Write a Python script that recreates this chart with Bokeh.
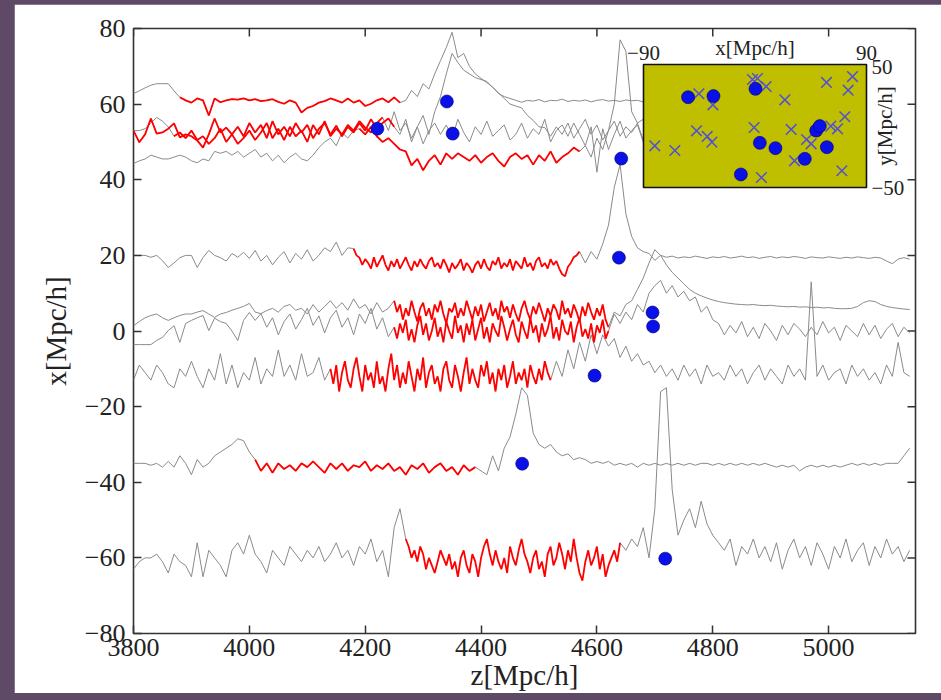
import numpy as np
from bokeh.plotting import figure
from bokeh.models import Range1d, FixedTicker
from bokeh.layouts import column
from bokeh.embed import file_html
from bokeh.resources import INLINE
from bokeh.core.properties import value

# ---------------- data ----------------
Z_STEP = 10    # gray spectra sampled every 10 Mpc/h along z
RED_STEP = 5   # finely sampled forest segments

# spectrum 1 (x = -60)
s1_z0 = 3800
s1_red = (4270, 4640)
s1_vals = [
    -63, -61, -60, -60, -59, -61, -64, -59, -61, -62,
    -65, -56, -65, -58, -60, -62, -65, -58, -56, -59,
    -54, -59, -61, -64, -58, -60, -62, -57, -59, -61,
    -58, -60, -57, -61, -59, -56, -60, -58, -62, -57,
    -59, -55, -61, -58, -65, -52, -47,
    -55, -59, -61, -57, -63, -64, -60, -58, -62, -65,
    -61, -57, -59, -63, -55, -58, -62, -64, -60, -56,
    -59, -63, -65, -61, -57, -55, -60, -64, -62, -58,
    -66, -61, -57, -59, -63, -65, -60, -56,
    -58, -55, -57, -52, -60, -47, -16, -15, -42, -54,
    -50, -47, -52, -45, -51, -54, -56, -58, -55, -62,
    -57, -59, -55, -60, -57, -61, -56, -63, -58, -55,
    -60, -57, -62, -56, -59, -63, -57, -60, -55, -61,
    -58, -56, -62, -57, -60, -55, -59, -57, -61, -58]
s1_red_vals = [
    -55, -57, -60, -58, -61, -57, -59, -63, -60, -62,
    -64, -61, -58, -60, -62, -59, -63, -61, -65, -60,
    -58, -62, -64, -59, -61, -65, -60, -57, -55, -59,
    -62, -58, -61, -63, -60, -64, -57, -60, -62, -58,
    -55, -59, -61, -64, -60, -58, -63, -61, -65, -59,
    -57, -62, -60, -56, -59, -63, -58, -61, -55, -60,
    -64, -66, -61, -58, -62, -60, -57, -63, -59, -65,
    -62, -60, -58, -61, -56]

# spectrum 2 (x = -35)
s2_z0 = 3800
s2_red = (4010, 4390)
s2_vals = [
    -35, -35, -35, -35.5, -35, -36, -34.5, -36, -33, -35,
    -38, -34, -36, -35, -33, -32, -31, -30, -28.5, -29,
    -32,
    -34, -37, -35, -37.5, -35, -36.5, -35.5, -37, -35, -36,
    -34.5, -36, -37.5, -35, -36.5, -35, -37, -35.5, -36, -34.5,
    -37, -35.5, -36.5, -35, -37, -36, -38, -35.5, -36.5, -35,
    -37.5, -36, -35, -37, -36, -38, -35.5, -37, -36,
    -37, -38, -33, -37, -31, -28, -22, -15, -17, -27,
    -30, -31, -30, -32, -33, -32.5, -34, -33.5, -34, -35,
    -34.5, -35, -34.5, -35.5, -35, -35.5, -35, -36, -35, -35.5,
    -35, -35.5, -35, -35.5, -35, -35.5, -35, -35.5, -35, -35,
    -35.5, -35, -35.5, -35, -35.5, -35, -35.5, -35, -35.5, -35,
    -35.5, -36, -35.5, -36, -35.5, -37, -36, -35.5, -36, -35.5,
    -36, -35.5, -36, -35.5, -35, -35.5, -35, -35.5, -35, -35.5,
    -35, -35, -35, -33, -31]
s2_red_vals = None

# spectrum 3 (x = -12)
s3_z0 = 3800
s3_red = (4140, 4520)
s3_vals = [
    -13, -9, -11, -13, -9, -11, -14, -15, -10, -12,
    -8, -12, -15, -10, -13, -6, -14, -9, -15, -11,
    -13, -7, -14, -10, -12, -5, -12, -9, -13, -6,
    -12, -11, -7, -13,
    -10, -15, -12, -8, -14, -16, -11, -7, -13, -9,
    -15, -12, -16, -10, -6, -13, -11, -15, -8, -12,
    -14, -9, -16, -13, -10, -7, -12, -15, -11, -14,
    -8, -13, -10, -16, -12, -9, -14, -11, -13,
    -8, -12, -5, -10, -3, -8, -1, -6, -1, -4,
    -2, -7, -4, -8, -6, -9, -8, -11, -9, -12,
    -10, -13, -9, -12, -10, -14, -9, -12, -11, -13,
    -9, -12, -10, -14, -11, -9, -13, -10, -12, -14,
    -9, -12, -10, -13, 13, -12, -9, -13, -11, -10,
    -14, -9, -12, -10, -13, -11, -14, -9, -12, -3, -11, -12]
s3_red_vals = [
    -10, -14, -9, -16, -11, -8, -13, -15, -10, -7,
    -12, -16, -9, -13, -11, -15, -8, -14, -12, -16,
    -10, -6, -13, -9, -15, -11, -14, -8, -12, -16,
    -10, -13, -7, -15, -11, -9, -14, -12, -16, -10,
    -8, -13, -15, -9, -12, -16, -11, -7, -14, -10,
    -13, -15, -9, -12, -8, -14, -11, -16, -10, -13,
    -9, -15, -12, -8, -14, -11, -13, -10, -15, -9,
    -12, -14, -10, -13, -8, -11, -13]

# spectrum 4a (x = 5, smooth)
s4a_z0 = 3800
s4a_red = (4250, 4620)
s4a_vals = [
    1.4, 2.5, 3.5, 4.1, 4.5, 3.5, 2.8, 3.5, 4.1, 4.5,
    4.5, 5, 5.4, 4.5, 3.6, 4.5, 4.9, 5.5, 6, 6.5,
    7.3, 5, 4.6, 5.4, 6, 5, 6.5, 7, 5.5, 6,
    4.5, 7, 5, 6.5, 8, 6, 7.5, 5.5, 8.5, 6,
    7, 4.5, 7.5, 5, 6,
    8, 5, 3, 7, 6, 2.5, 5, 8, 4, 3,
    6.5, 7.5, 4, 2, 5.5, 7, 6, 3, 4.5, 8,
    5, 2.5, 6, 7, 3.5, 5, 7.5, 4, 3, 6,
    8, 5.5, 2.5, 4, 7, 6, 3, 1,
    5, 4, 7, 8, 11, 14, 18, 21.5, 20, 17.5,
    15.5, 14, 12.5, 11, 10, 9.3, 8.7, 8.2, 7.8, 7.5,
    7.3, 7.1, 7, 6.9, 7, 6.8, 6.7, 6.8, 6.6, 6.5,
    6.4, 6.5, 6.3, 6.4, 6.2, 6.3, 6.1, 6.2, 6, 5.9,
    5.9, 6, 6.5, 7.5, 8, 7.8, 7, 6.5, 6.2, 6, 5.8, 5.7]
s4a_red_vals = [
    8, 5, 7, 3, 6, 4, 8, 5, 2.5, 6,
    7.5, 4, 6, 3, 7, 5, 8, 4.5, 2, 6,
    5, 7.5, 3.5, 6, 4, 8, 5.5, 3, 6.5, 4,
    7, 2.5, 5, 7.5, 4, 6, 3, 8, 5, 6.5,
    3.5, 7, 4.5, 2.5, 6, 8, 5, 3, 6.5, 4.5,
    7.5, 5, 2.5, 6, 4, 7, 5.5, 3, 8, 4.5,
    6, 3.5, 7, 5, 2.5, 6.5, 4, 7.5, 5, 3,
    6, 4, 7, 3, 1]

# spectrum 4b (x = 1.5, noisy)
s4b_z0 = 3800
s4b_red = (4250, 4620)
s4b_vals = [
    -3.6, -3.6, -3.6, -3.6, -2.5, -1.7, 0.1, 1.4, -3, 2,
    2.8, 3.5, 4.1, 0.1, 3.4, 2.5, 2, 0, -2.5, 2.8,
    4.9, 2.8, 4.6, 1, 3.5, -1, 2.5, 4.5, 0.5, 3,
    6, 1.5, 4, -0.5, 3.5, 5.5, 1, 3.5, -1, 4.5,
    2, 6, 0.5, 3.5, -1.5,
    1, -1.5, 3, 0.5, -2.5, -3, 1.5, 4, 2, -1,
    -2.5, 0, 3.5, 1, -3, -1, 2.5, 4, -0.5, -2,
    1, 3, -2.5, -3, 0.5, 2, 4, 0, -2, 1.5,
    -1, -3, 2.5, 3.5, 0, -2.5, 1, 0,
    4.5, 2, 5, 3, 7, 5, 10, 12, 13.4, 10,
    12, 9, 10.5, 8, 9, 5, 6.5, 3, 2, -1,
    1.5, -0.5, 2.5, -1.5, 1, -2, 2, 0, -2.5, 1.5,
    -1, 2, 0.5, -1.5, 1, -1, 2.5, -0.5, 1, -2.5,
    1.5, 0, -1.5, 2, -1, 1.5, -2, 0.5, 2, -1.5, 1, -0.5]
s4b_red_vals = [
    1, -2, 2, -0.5, 3, -2.5, 0.5, -3, 1.5, 4,
    -1, 2, -2.5, 0, 3.5, -1.5, 1, -3, 2.5, 0,
    -2, 4, -0.5, 1.5, -3, 2, -1, 3, -2.5, 0.5,
    3.5, -2, 1, -3, 2, 0, -1.5, 4, 1, -2.5,
    0.5, 3, -1, -3, 2.5, 0, -2, 3.5, -0.5, 1.5,
    -3, 2, -1.5, 0.5, 4, -2, 1, -2.5, 3, 0,
    -1, 2.5, -3, 1, 3.5, -1.5, 0.5, -2, 2, -3,
    1.5, -0.5, 3, -2, 0]

# spectrum 5 (x = 19.5)
s5_z0 = 3800
s5_red = (4180, 4570)
s5_vals = [
    20, 20, 20, 19.5, 20, 18.6, 16.8, 18, 19.4, 20,
    20, 16.8, 19.4, 21.3, 20, 19.4, 18.5, 20.5, 19.5, 20.8,
    19.2, 21.3, 18.5, 20, 17.5, 19.5, 21, 18, 20.5, 19,
    21.5, 18.5, 20, 22, 21, 23.5, 20, 22,
    21.8, 19.4, 18, 19.5, 16.5, 17.5, 20, 18.5, 17, 16,
    18.5, 19, 17.5, 16.5, 18, 19.5, 18, 17, 16.5, 19,
    18, 15.4, 17, 18.5, 17.5, 16, 18.5, 19.5, 17, 16.5,
    18, 17, 19.5, 18.5, 16.5, 18, 17.5, 14.5, 18, 21,
    18, 21, 19, 23, 28, 38, 44, 31, 25, 22,
    21, 20.5, 18.7, 20, 19.5, 19.8, 19.3, 19.6, 19.4, 19.8,
    19.5, 19.2, 19.6, 19.4, 19.7, 19.3, 19.5, 19.8, 19.4, 19.6,
    19.2, 19.5, 19.7, 19.3, 19.6, 19.4, 19.7, 19.5, 19.2, 19.6,
    19.4, 19.3, 19.6, 19.4, 19.2, 19.5, 19.3, 19.6, 19.4, 19.2,
    19.5, 19.3, 18.5, 17.8, 19, 19.4, 19]
s5_red_vals = [
    21.8, 20, 19.4, 17.5, 19, 18, 16.5, 19.5, 17, 18.5,
    20, 17.5, 16, 18.5, 17, 19, 16.5, 18, 19.5, 17.5,
    16, 18.5, 17, 19, 17.5, 16.5, 18.5, 19.5, 17, 18,
    16.5, 19, 17.5, 15.5, 18, 16.5, 17.5, 19, 16, 18,
    17, 15.4, 17.5, 18.5, 16.5, 19, 17, 16, 18.5, 17.5,
    19.5, 16.5, 18, 17, 19, 16, 18.5, 17.5, 16.5, 19.5,
    17, 18, 16, 18.5, 19.5, 17, 18, 16.5, 19, 17.5,
    18.5, 16.5, 15, 14.5, 17, 18, 19.5, 20, 21]

# spectrum 6 (x = 45.6)
s6_z0 = 3800
s6_red = (4190, 4570)
s6_vals = [
    44.3, 45, 45.5, 46.5, 46, 45.5, 45.5, 46, 46.5, 46,
    45, 44.5, 45.5, 45, 47.5, 47, 47.5, 46.5, 47.5, 46,
    47, 48, 46, 47, 45, 46.5, 44.5, 46, 47, 45.5,
    45, 46.5, 48.5, 50, 51, 49, 52.5, 51, 53,
    53.5, 52, 54, 51.5, 50, 51, 49.5, 48, 47.5, 43.8,
    45.5, 42.5, 45, 46.5, 44, 47, 45.5, 47, 46, 45,
    46.5, 44.5, 46, 47, 45, 43.5, 46, 47, 45.5, 46.5,
    44, 46.5, 45, 47.5, 44.5, 46, 47, 48.5, 47.5,
    49, 46, 51, 48, 53, 60, 77, 74, 58, 55, 56, 55]
s6_red_vals = None

# spectrum 7 (x = 61)
s7_z0 = 3800
s7_red = (3880, 4260)
s7_vals = [
    62.8, 63.5, 64.3, 65, 65.4, 65.4, 65.4, 63.5,
    61.8, 61, 60.4, 61.5, 61, 57, 61.5, 60.5, 61, 61.3,
    61.2, 61.5, 61, 61.3, 60.8, 61, 61.3, 60.6, 60.1, 61,
    60.4, 57.8, 59, 59.5, 60.4, 60.8, 61.5, 61, 60.4, 61.5,
    60.4, 61, 59.5, 60.1, 61, 61.5, 60.5, 61.8, 60.4,
    61, 63.6, 62, 65.4, 64, 68, 71.5, 75, 79, 72.3,
    73.4, 70, 68, 66.8, 65.7, 64.5, 62.8, 62, 61.5, 61,
    60.5, 61, 60.8, 61.2, 60.6, 61, 60.9, 61.3, 60.7, 61,
    60.8, 61.1, 60.6, 61, 61.2, 60.8, 61, 60.7, 61.1, 60.9,
    61, 60.6, 61.2, 60.8, 61, 60.9, 61.1, 60.7, 61, 60.8,
    61.2, 60.9, 61, 60.7, 61.1, 60.8, 61, 60.9, 61.2, 60.8,
    61, 60.7, 61.1, 60.9, 61, 60.8, 61]
s7_red_vals = None

# spectrum 8 (x = 52.2)
s8_z0 = 3800
s8_red = (3800, 4250)
s8_vals = [
    53, 49.9, 52, 56.2, 52.2, 52.5, 53.5, 54.9, 51.2, 52,
    51.5, 50.4, 48.5, 52, 56.2, 52.5, 53.8, 52, 54, 51.5,
    55, 52.5, 54.5, 51, 55.5, 52, 54, 51.5, 55, 52.5,
    54.5, 51, 53.5, 55, 52, 54.3, 51.5, 54, 52.5, 55,
    53, 56, 53.5, 55, 56.2, 54,
    52, 56, 50, 54, 57, 52, 58, 62, 68, 73.4,
    71, 69, 68, 67, 66.5, 66, 64.4, 63, 61.5, 60,
    59.5, 59, 57, 55.7, 54, 53.8,
    51.5, 54, 52, 55, 51, 53.5, 56, 52, 54.5, 50.5,
    53, 55.5, 51.5, 54, 52.5, 55, 50.5, 53.5, 54.5, 51,
    56, 52.5, 53, 50, 55, 52, 54, 51.5, 55.5, 52,
    53.5, 50.5, 54, 52.5, 55, 51, 53.5, 54, 52, 55,
    51.5, 53, 54.5, 52]
s8_red_vals = None

# spectrum 9 (x = 53.5)
s9_z0 = 3800
s9_red = (3870, 4230)
s9_vals = [
    53, 53, 53.5, 55, 56.5, 55.5, 54,
    51.5, 52.5, 51, 53, 50.5, 51.5, 49.5, 51, 53.5, 50,
    52, 49.5, 51, 53, 50.5, 52.5, 55, 51, 53.5, 50.5,
    54, 51.5, 53, 50, 54.5, 52, 55.5, 51.5, 53.5, 52,
    54.5, 53, 55.5, 53.8, 52.5, 55, 56.5,
    53, 58, 53, 55, 51, 54, 49.5, 53, 55, 52,
    54.5, 51, 56, 52.5, 50, 54, 52, 55.5, 51.5, 53,
    54.5, 50.5, 52, 55, 51, 53.5, 52, 56, 50, 53,
    54.5, 51.5, 55, 52, 49, 54, 42, 53.5, 48, 52,
    55.5, 51, 53, 54.5, 50, 54.5, 52, 55, 51, 53,
    56, 52.5, 50.5, 54, 52, 55, 51.5, 53.5, 54, 50.5,
    52.5, 55, 51, 53, 54.5, 52, 53, 51.5]
s9_red_vals = None

# quasar positions (main panel): z and x
qso_z = [4221, 4341, 4351, 4642, 4638, 4696, 4697, 4596, 4471, 4718]
qso_x = [53.5, 60.7, 52.2, 45.6, 19.4, 4.9, 1.2, -11.8, -35.1, -60.2]

# inset: quasars (dots) and other sightlines (crosses) in the x-y plane
inset_dot_x = [-54, -33.5, 0.4, 3.9, 16.5, -11.4, 40.2, 49.4, 52.3, 58]
inset_dot_y = [23.4, 24.3, 30.2, -13.7, -18, -39.4, -26.7, -3.7, -0.1, -17.2]
inset_cross_x = [-80.9, -64.7, -45.3, -34.0, -47.2, -38.6, -34.8, -2.0, 2.0, 9.0,
                 -0.7, 24.1, 29.2, 31.9, 5.2, 41.6, 45.3, 57.7, 75.2, 78.7,
                 72.5, 61.2, 66.6, 70.1]
inset_cross_y = [-16.1, -19.9, 26.2, 17.2, -3.9, -8.5, -13.1, 37.8, 38.6, 32.1,
                 -1.2, 21.3, -2.8, -28.3, -41.9, -11.0, -14.5, 35.4, 29.1, 40.2,
                 7.5, -0.1, -2.3, -36.4]
inset_xlim = (-90, 90)
inset_ylim = (-50, 50)

x_ticks = [3800, 4000, 4200, 4400, 4600, 4800, 5000]
y_ticks = [-80, -60, -40, -20, 0, 20, 40, 60, 80]
y_tick_labels = ["\u221280", "\u221260", "\u221240", "\u221220", "0", "20", "40", "60", "80"]

spectra = [
    (s1_z0, s1_vals, s1_red, s1_red_vals), (s2_z0, s2_vals, s2_red, s2_red_vals),
    (s3_z0, s3_vals, s3_red, s3_red_vals), (s4a_z0, s4a_vals, s4a_red, s4a_red_vals),
    (s4b_z0, s4b_vals, s4b_red, s4b_red_vals), (s5_z0, s5_vals, s5_red, s5_red_vals),
    (s6_z0, s6_vals, s6_red, s6_red_vals), (s7_z0, s7_vals, s7_red, s7_red_vals),
    (s8_z0, s8_vals, s8_red, s8_red_vals), (s9_z0, s9_vals, s9_red, s9_red_vals),
]

# ---------------- styling / layout ----------------
FONT = "Liberation Serif"
INK = "#222222"
GRAY = "#8a8a8a"
RED = "#ff0000"
FRAME_W, FRAME_H = 782, 605
XR = (3800, 5150)
YR = (-80, 80)
# inset box placement inside the frame (pixels from frame left/top)
BOX_L, BOX_R, BOX_T, BOX_B = 510, 733, 36, 159

p = figure(frame_width=FRAME_W, frame_height=FRAME_H,
           x_range=Range1d(*XR), y_range=Range1d(*YR),
           output_backend="svg", toolbar_location=None,
           min_border_left=119, min_border_right=26,
           min_border_top=24, min_border_bottom=50,
           background_fill_color="white", border_fill_color="white")
p.grid.visible = False
p.outline_line_color = "#333333"
p.outline_line_width = 1.6

for ax in (p.xaxis[0], p.yaxis[0]):
    ax.axis_line_color = None
    ax.major_tick_in = 8
    ax.major_tick_out = 0
    ax.minor_tick_in = 0
    ax.minor_tick_out = 0
    ax.major_tick_line_color = "#333333"
    ax.major_tick_line_width = 1.5
    ax.major_label_text_font = FONT
    ax.major_label_text_font_size = "26px"
    ax.major_label_text_color = INK
    ax.axis_label_text_font = FONT
    ax.axis_label_text_font_style = "normal"
    ax.axis_label_text_font_size = "29px"
    ax.axis_label_text_color = INK

p.xaxis.ticker = FixedTicker(ticks=x_ticks)
p.yaxis.ticker = FixedTicker(ticks=y_ticks)
p.yaxis.major_label_overrides = {t: l for t, l in zip(y_ticks, y_tick_labels)}
p.xaxis.axis_label = "z[Mpc/h]"
p.yaxis.axis_label = "x[Mpc/h]"
p.xaxis.major_label_standoff = 5
p.xaxis.axis_label_standoff = 0
p.yaxis.major_label_standoff = 8
p.yaxis.axis_label_standoff = 10

# inward ticks on the top and right edges of the frame
p.scatter(x_ticks, [YR[1]] * len(x_ticks), marker="dash", angle=np.pi / 2, size=16,
          line_color="#333333", line_width=1.5)
p.scatter([XR[1]] * len(y_ticks), y_ticks, marker="dash", size=16,
          line_color="#333333", line_width=1.5)

# spectra: gray outside the forest segment, red forest segment
red_lines = []
for z0, vals, (r0, r1), red_vals in spectra:
    v = np.asarray(vals, dtype=float)
    z = z0 + Z_STEP * np.arange(len(v))
    if red_vals is None:
        p.line(z, v, line_color=GRAY, line_width=1.0)
        m = (z >= r0) & (z <= r1)
        red_lines.append((z[m], v[m]))
    else:
        rv = np.asarray(red_vals, dtype=float)
        rz = r0 + RED_STEP * np.arange(len(rv))
        left = z < r0
        right = z > rz[-1]
        if left.any():
            p.line(np.append(z[left], rz[0]), np.append(v[left], rv[0]),
                   line_color=GRAY, line_width=1.0)
        if right.any():
            p.line(np.insert(z[right], 0, rz[-1]), np.insert(v[right], 0, rv[-1]),
                   line_color=GRAY, line_width=1.0)
        red_lines.append((rz, rv))
for rz, rv in red_lines:
    p.line(rz, rv, line_color=RED, line_width=1.8)

p.scatter(qso_z, qso_x, size=13, marker="circle",
          fill_color="#0a10e8", line_color="#00006a", line_width=0.6)

# inset axes mapped into the frame through extra ranges
ix_per_px = (inset_xlim[1] - inset_xlim[0]) / (BOX_R - BOX_L)
iy_per_px = (inset_ylim[1] - inset_ylim[0]) / (BOX_B - BOX_T)
p.extra_x_ranges = {"ix": Range1d(inset_xlim[0] - BOX_L * ix_per_px,
                                  inset_xlim[1] + (FRAME_W - BOX_R) * ix_per_px)}
p.extra_y_ranges = {"iy": Range1d(inset_ylim[0] - (FRAME_H - BOX_B) * iy_per_px,
                                  inset_ylim[1] + BOX_T * iy_per_px)}
kw = dict(x_range_name="ix", y_range_name="iy")
p.quad(left=[inset_xlim[0]], right=[inset_xlim[1]], bottom=[inset_ylim[0]], top=[inset_ylim[1]],
       fill_color="#bfbf00", line_color="#111111", line_width=1.6, **kw)
p.scatter(inset_cross_x, inset_cross_y, marker="x", size=15, line_color="#5050d6",
          line_width=1.5, **kw)
p.scatter(inset_dot_x, inset_dot_y, marker="circle", size=13, fill_color="#0a10e8",
          line_color="#00006a", line_width=0.6, **kw)

tf = value(FONT)
p.text([inset_xlim[0]], [inset_ylim[1]], text=["\u221290"], text_font=tf, text_font_size="21px",
       text_align="center", text_baseline="bottom", y_offset=-5, text_color=INK, **kw)
p.text([inset_xlim[1]], [inset_ylim[1]], text=["90"], text_font=tf, text_font_size="21px",
       text_align="center", text_baseline="bottom", y_offset=-5, text_color=INK, **kw)
p.text([0], [inset_ylim[1]], text=["x[Mpc/h]"], text_font=tf, text_font_size="21px",
       text_align="center", text_baseline="bottom", y_offset=-5, text_color=INK, **kw)
p.text([inset_xlim[1]], [inset_ylim[1]], text=["50"], text_font=tf, text_font_size="21px",
       text_align="left", text_baseline="middle", x_offset=5, y_offset=2, text_color=INK, **kw)
p.text([inset_xlim[1]], [inset_ylim[0]], text=["\u221250"], text_font=tf, text_font_size="21px",
       text_align="left", text_baseline="middle", x_offset=5, text_color=INK, **kw)
p.text([inset_xlim[1]], [0], text=["y[Mpc/h]"], text_font=tf, text_font_size="21px",
       text_align="center", text_baseline="top", angle=np.pi / 2, x_offset=6,
       text_color=INK, **kw)

layout = column(p, styles={"background-color": "#5e4a66",
                           "padding": "4px 0 8px 14px"})

open("out.html", "w").write(file_html(layout, INLINE))
